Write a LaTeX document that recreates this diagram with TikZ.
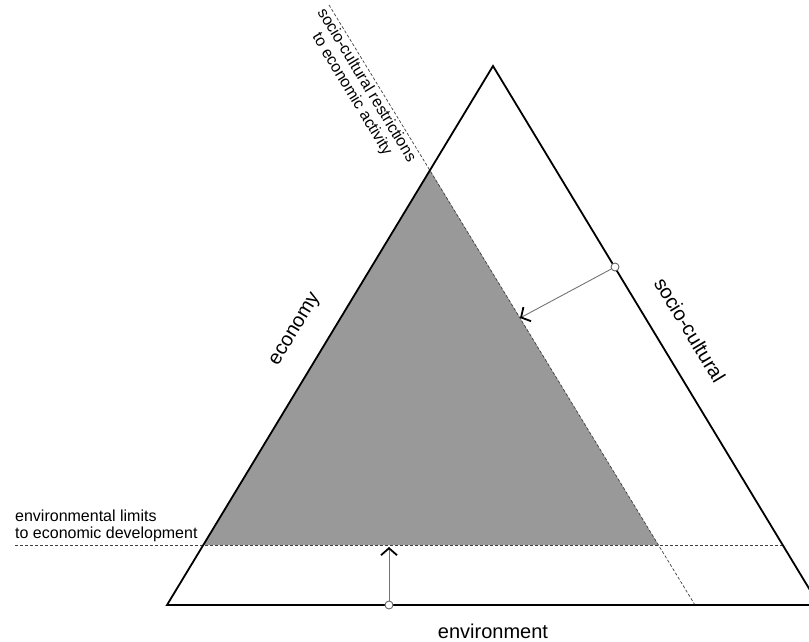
\documentclass[tikz,border=0pt]{standalone}
\usepackage{fontspec}
\setmainfont{Liberation Sans}
\usetikzlibrary{arrows.meta}
\begin{document}
\begin{tikzpicture}[x=1pt,y=-1pt,
  side/.style={line width=1.8pt, black, line join=miter},
  dline/.style={dash pattern=on 3pt off 2pt, line width=0.7pt, black!75},
  push/.style={line width=0.9pt, black!55, -{Straight Barb[length=7pt,width=16pt,line width=1.8pt,color=black]}},
  ring/.style={circle, draw=black!60, fill=white, line width=0.9pt, inner sep=0pt, minimum size=8pt},
  lbl/.style={font=\fontsize{16}{17}\selectfont, inner sep=0pt},
  axis/.style={font=\fontsize{20}{22}\selectfont, inner sep=0pt},
]
\useasboundingbox (0,0) rectangle (809,642);
\clip (0,0) rectangle (809,642);
\coordinate (A) at (167,605);
\coordinate (T) at (493,66);
\coordinate (B) at (819,605);
\coordinate (D0) at (329,5);
\coordinate (D1) at (430,170);
\coordinate (D2) at (695,605);
\coordinate (G1) at (203,545);
\coordinate (G2) at (658.5,545);
\coordinate (H0) at (15,545);
\coordinate (H1) at (785,545);
\coordinate (t1) at (520,318);
\coordinate (t2) at (389,547);
% shaded region
\fill[black!40] (D1) -- (G1) -- (G2) -- cycle;
% dashed limits
\draw[dline] (D0) -- (D2);
\draw[dline] (H0) -- (H1);
% triangle
\draw[side] (A) -- (T) -- (B) -- cycle;
% arrows
\node[ring] (r1) at (615,267) {};
\node[ring] (r2) at (389,605) {};
\draw[push] (r1) -- (t1);
\draw[push] (r2) -- (t2);
% labels
\node[axis, rotate=58.8] (econ) at (296,330) {economy};
\node[axis, rotate=-58.8] (soc) at (690,330) {socio-cultural};
\node[axis, anchor=base] (env) at (493,638) {environment};
\node[lbl, align=left, anchor=south west] (envlim) at (15,542) {environmental limits\\to economic development};
\node[lbl, align=center, rotate=-58.8] (socres) at (359,90) {socio-cultural restrictions\\to economic activity};
\end{tikzpicture}
\end{document}
